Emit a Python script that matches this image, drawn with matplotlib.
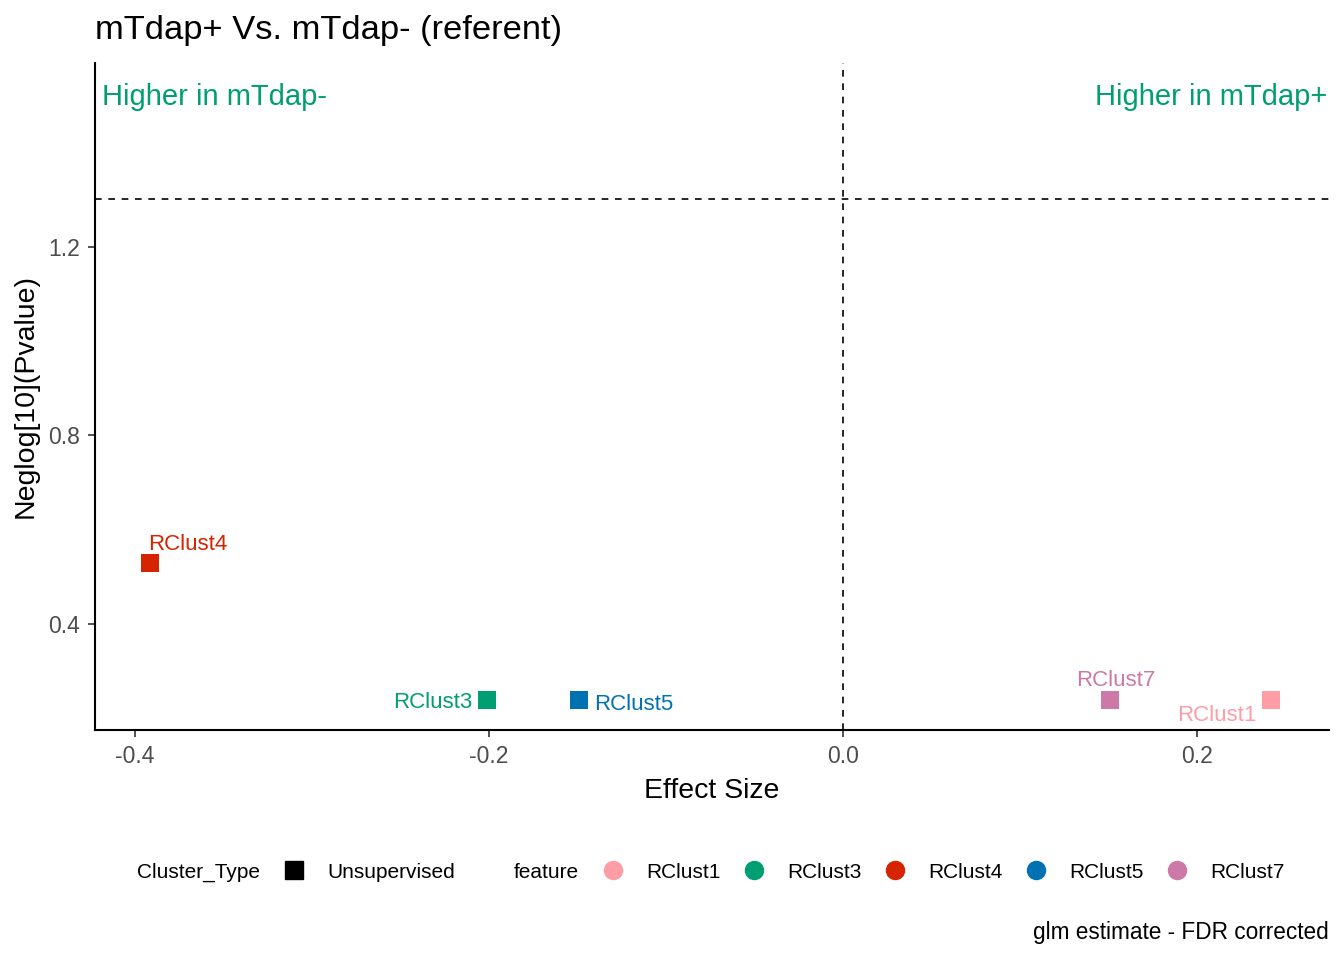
import matplotlib.pyplot as plt
from matplotlib.lines import Line2D

plt.rcParams['font.family'] = ['Liberation Sans', 'DejaVu Sans']

# data
features = ['RClust1', 'RClust3', 'RClust4', 'RClust5', 'RClust7']
effect = [0.242, -0.201, -0.3915, -0.149, 0.151]
neglogp = [0.238, 0.238, 0.529, 0.238, 0.238]
colors = ['#FF9DA7', '#009E73', '#D62300', '#0072B2', '#CC79A7']
# label offsets (points) mimicking ggrepel placement
label_off = [(-39, -11), (-39, -2), (27, 13), (39, -3), (4, 14)]

fig = plt.figure(figsize=(13.44, 9.6), dpi=100)
ax = fig.add_axes([0.0707, 0.240, 0.9181, 0.694])

for x, y, c, f, off in zip(effect, neglogp, colors, features, label_off):
        ax.scatter(x, y, marker='s', s=180, color=c, zorder=3, linewidths=0)
        ax.annotate(f, (x, y), xytext=off, textcoords='offset points',
                    ha='center', va='center', color=c, fontsize=16)

ax.axhline(1.30103, color='black', linestyle=(0, (4, 4)), linewidth=1.2)
ax.axvline(0, color='black', linestyle=(0, (4, 4)), linewidth=1.2)

ax.set_xlim(-0.4226, 0.2746)
ax.set_ylim(0.175, 1.59)
ax.set_xticks([-0.4, -0.2, 0.0, 0.2])
ax.set_xticklabels(['-0.4', '-0.2', '0.0', '0.2'])
ax.set_yticks([0.4, 0.8, 1.2])
for s in ['top', 'right']:
        ax.spines[s].set_visible(False)
for s in ['left', 'bottom']:
        ax.spines[s].set_linewidth(1.5)
ax.tick_params(length=5, width=1.2, color='#333333', labelcolor='#4D4D4D',
               labelsize=16.5, pad=6)

ax.set_xlabel('Effect Size', fontsize=20.5, labelpad=7)
ax.set_ylabel('Neglog[10](Pvalue)', fontsize=20.5, labelpad=7)
fig.text(95 / 1344, 1 - 31 / 960, 'mTdap+ Vs. mTdap- (referent)', fontsize=24.8,
         ha='left', va='center')

ax.text(0.006, 0.949, 'Higher in mTdap-', transform=ax.transAxes, color='#009E73',
        fontsize=21, ha='left', va='center')
ax.text(0.999, 0.949, 'Higher in mTdap+', transform=ax.transAxes, color='#009E73',
        fontsize=21, ha='right', va='center')

# legends
leg_y = 1 - 872 / 960
fig.text(137 / 1344, leg_y, 'Cluster_Type', fontsize=15, va='center')
h1 = [Line2D([], [], marker='s', color='black', linestyle='none', markersize=13)]
fig.legend(h1, ['Unsupervised'], loc='center left', bbox_to_anchor=(273 / 1344, leg_y),
           frameon=False, fontsize=15, handletextpad=0.63, borderaxespad=0,
           borderpad=0)

fig.text(514 / 1344, leg_y, 'feature', fontsize=15, va='center')
h2 = [Line2D([], [], marker='o', color=c, linestyle='none', markersize=13) for c in colors]
fig.legend(h2, features, loc='center left', bbox_to_anchor=(592 / 1344, leg_y),
           ncol=5, frameon=False, fontsize=15, handletextpad=0.6,
           columnspacing=0.6, borderaxespad=0, borderpad=0)

fig.text(1329 / 1344, 1 - 933 / 960, 'glm estimate - FDR corrected', fontsize=16.3,
         ha='right', va='center')

fig.savefig('out.png', dpi=100)
